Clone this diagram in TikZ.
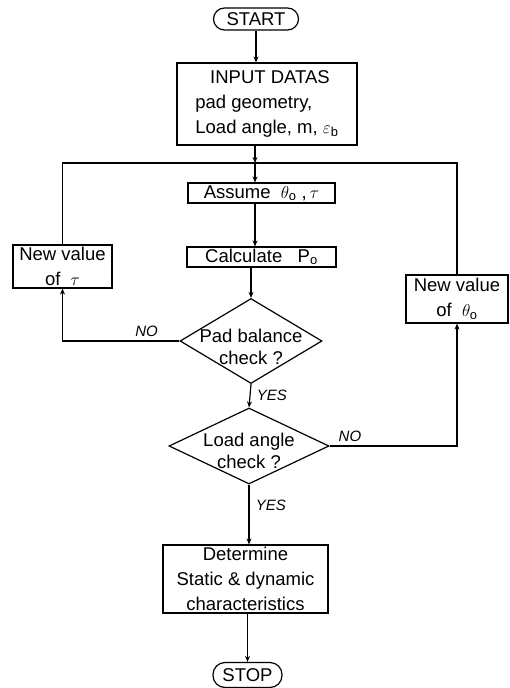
\documentclass[tikz,border=0pt]{standalone}
\usepackage{fontspec}
\setmainfont{Liberation Sans}
\usepackage{amsmath}
\usetikzlibrary{calc}
\usetikzlibrary{shapes.geometric}
\usetikzlibrary{arrows.meta}

\tikzset{
  flowbox/.style={draw, line width=1.2pt, rectangle, inner sep=0pt, font=\fontsize{18.5}{25}\selectfont},
  termbox/.style={draw, line width=1.2pt, rounded corners=11pt, inner sep=0pt, font=\fontsize{18.5}{22}\selectfont},
  decision/.style={draw, line width=1.2pt, diamond, inner sep=0pt},
  decisiontext/.style={align=center, font=\fontsize{18.5}{22}\selectfont},
  answer/.style={font=\fontsize{15}{17}\selectfont\itshape},
  flow/.style={line width=1.2pt, -{Stealth[length=6pt,width=5pt]}},
  loopline/.style={line width=1.2pt}
}

\begin{document}
\begin{tikzpicture}[x=1pt,y=-1pt]
\useasboundingbox (0,0) rectangle (509,688);

\node[termbox, minimum width=85pt, minimum height=22pt] (start) at (256,19) {START};
\node[flowbox, minimum width=180pt, minimum height=82pt, align=left] (input) at (267,104)
  {\hspace{0.8em}INPUT DATAS\\pad geometry,\\Load angle, m, $\varepsilon_{\text{b}}$};
\coordinate (J) at (255,163);

\node[flowbox, minimum width=147pt, minimum height=20pt] (assume) at (261.5,193) {Assume\ \ $\theta_{\text{o}}$\ ,\,$\tau$};
\node[flowbox, minimum width=149pt, minimum height=20pt] (calc) at (261.5,257) {Calculate\ \ \ P$_{\text{o}}$};

\node[decision, minimum width=142pt, minimum height=85pt] (pad) at (251,341) {};
\node[decisiontext] (padtext) at ($(pad)+(0,6)$) {Pad balance\\check ?};

\node[decision, minimum width=160pt, minimum height=76pt] (load) at (249,446) {};
\node[decisiontext] (loadtext) at ($(load)+(0,5)$) {Load angle\\check ?};

\node[flowbox, minimum width=99pt, minimum height=43pt, align=center] (tau) at (62.5,266.5) {New value\\of\ \ $\tau$};
\node[flowbox, minimum width=102pt, minimum height=48pt, align=center] (theta) at (457,299) {New value\\of\ \ $\theta_{\text{o}}$};

\node[flowbox, minimum width=165pt, minimum height=68pt, align=center] (determine) at (245.5,579)
  {Determine\\Static \& dynamic\\characteristics};
\node[termbox, rounded corners=12pt, minimum width=69pt, minimum height=25pt] (stop) at (247.5,675) {STOP};

\draw[flow] (start.south) -- (start.south |- input.north);
\draw[flow] (input.south -| J) -- (J);
\draw[flow] (J) -- (J |- assume.north);
\draw[flow] (assume.south -| J) -- (J |- calc.north);
\draw[flow] (calc.south -| pad.north) -- (pad.north);
\draw[flow] (pad.south) -- (load.north) node[answer, midway, right, xshift=3pt] {YES};
\draw[flow] (load.south) -- (load.south |- determine.north) node[answer, pos=0.35, right, xshift=3pt] {YES};
\draw[flow] (determine.south -| stop.north) -- (stop.north);

% loops back to the top line
\draw[flow] (pad.west) -| (tau.south) node[answer, pos=0.14, above] {NO};
\draw[loopline] (tau.north) |- (J);
\draw[flow] (load.east) -| (theta.south) node[answer, pos=0.08, above] {NO};
\draw[loopline] (theta.north) |- (J);

\end{tikzpicture}
\end{document}
